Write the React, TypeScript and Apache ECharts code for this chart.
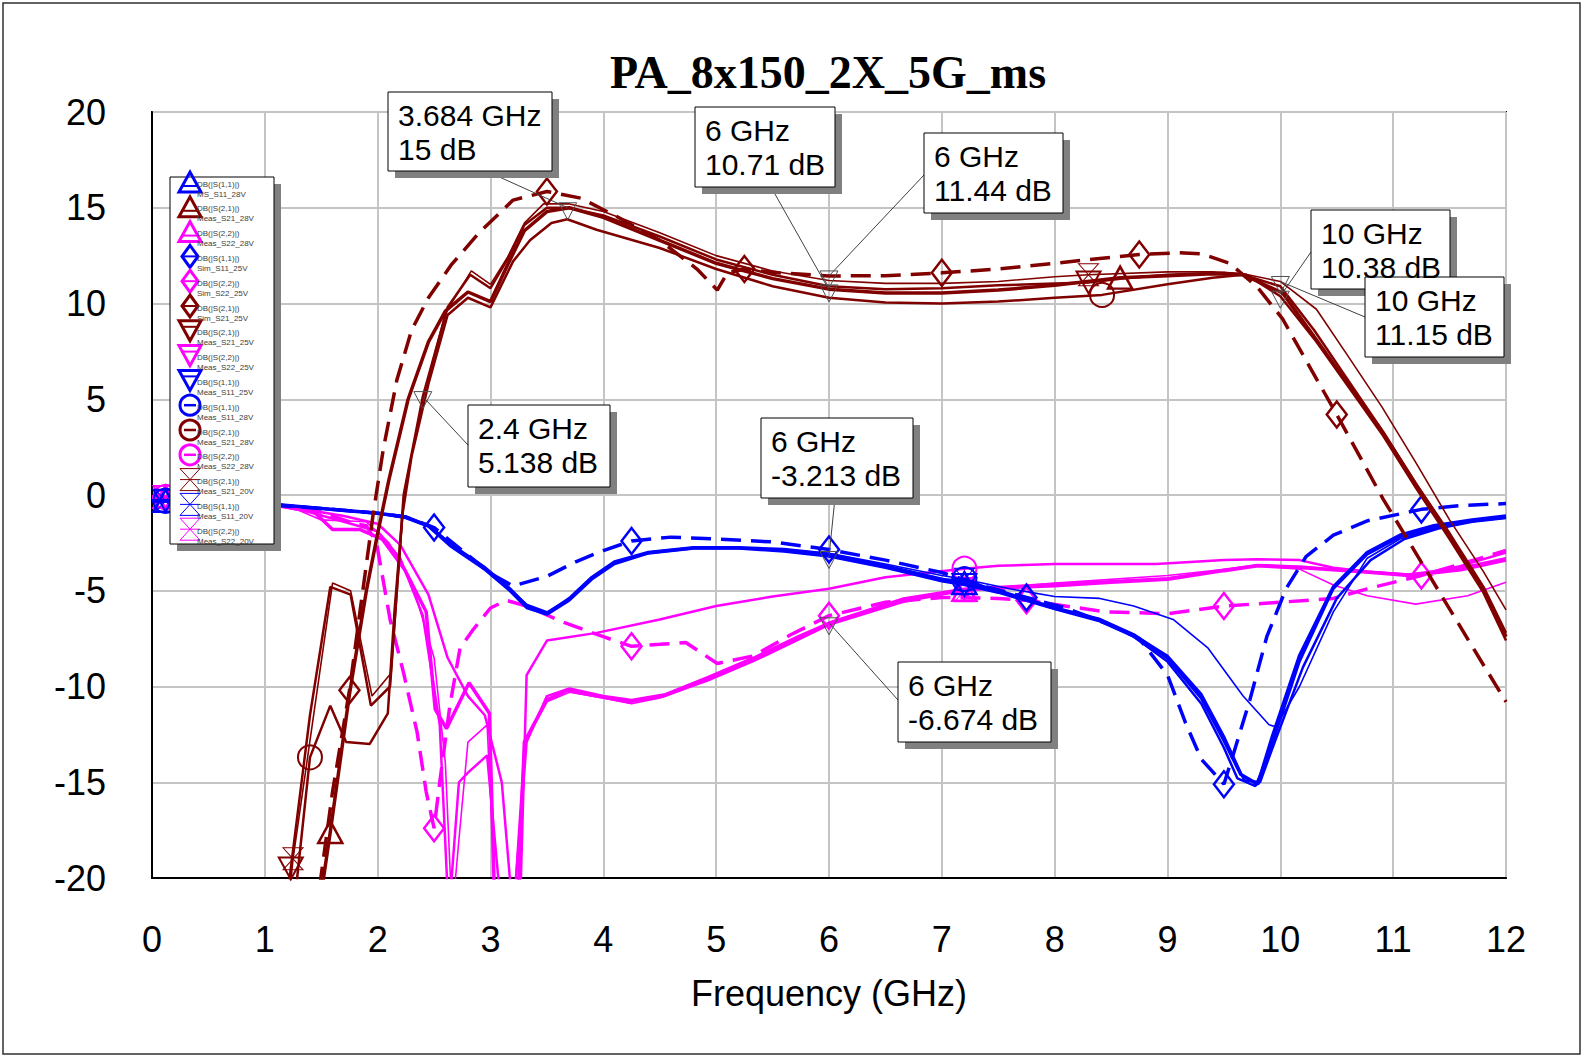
import React, { useEffect, useRef } from "react";
import * as echarts from "echarts";

type Pt = [number, number];

const BLUE = "#0000FF";
const DRED = "#800000";
const MAG = "#FF00FF";

const TITLE = "PA_8x150_2X_5G_ms";
const X_NAME = "Frequency (GHz)";
const X_MIN = 0, X_MAX = 12, X_STEP = 1;
const Y_MIN = -20, Y_MAX = 20, Y_STEP = 5;

// ---------- S11 ----------
const s11Ms28: Pt[] = [[0,-0.3],[0.12,-0.3],[0.5,-0.35],[1.0,-0.45],[1.5,-0.7],[2.0,-0.95],[2.25,-1.15],[2.45,-1.6],[2.65,-2.6],[2.95,-3.8],[3.17,-4.9],[3.32,-5.8],[3.5,-6.2],[3.7,-5.4],[3.9,-4.3],[4.1,-3.5],[4.4,-3.0],[4.8,-2.75],[5.2,-2.75],[5.6,-2.85],[6.0,-3.1],[6.5,-3.7],[7.0,-4.4],[7.2,-4.6],[7.5,-5.0],[8.0,-5.9],[8.4,-6.5],[8.7,-7.3],[9.0,-8.5],[9.3,-10.6],[9.5,-12.8],[9.65,-14.6],[9.8,-15.1],[9.93,-12.6],[10.17,-8.4],[10.47,-4.8],[10.77,-3.0],[11.06,-2.1],[11.36,-1.6],[11.7,-1.3],[12,-1.1]];
const s11Meas25: Pt[] = [[0,-0.3],[0.12,-0.3],[0.5,-0.35],[1.0,-0.45],[1.5,-0.7],[2.0,-0.95],[2.25,-1.2],[2.45,-1.65],[2.65,-2.7],[2.95,-3.9],[3.17,-5.0],[3.32,-5.9],[3.5,-6.25],[3.7,-5.5],[3.9,-4.4],[4.1,-3.6],[4.4,-3.05],[4.8,-2.8],[5.2,-2.8],[5.6,-2.95],[6.0,-3.213],[6.5,-3.8],[7.0,-4.5],[7.2,-4.7],[7.5,-5.1],[8.0,-5.95],[8.4,-6.6],[8.7,-7.4],[9.0,-8.7],[9.3,-10.9],[9.5,-13.2],[9.62,-14.8],[9.78,-15.2],[9.9,-13.5],[10.17,-8.7],[10.47,-4.9],[10.77,-3.1],[11.06,-2.2],[11.36,-1.7],[11.7,-1.35],[12,-1.15]];
const s11Meas28c: Pt[] = [[0,-0.3],[0.12,-0.3],[0.5,-0.35],[1.0,-0.45],[1.5,-0.7],[2.0,-0.95],[2.25,-1.15],[2.45,-1.6],[2.65,-2.6],[2.95,-3.85],[3.17,-4.95],[3.32,-5.85],[3.5,-6.2],[3.7,-5.45],[3.9,-4.35],[4.1,-3.55],[4.4,-3.0],[4.8,-2.75],[5.2,-2.75],[5.6,-2.9],[6.0,-3.15],[6.5,-3.75],[7.0,-4.45],[7.2,-4.4],[7.5,-5.05],[8.0,-5.9],[8.4,-6.5],[8.7,-7.3],[9.0,-8.4],[9.3,-10.4],[9.5,-12.6],[9.68,-14.9],[9.82,-15.0],[9.95,-12.9],[10.2,-9.0],[10.5,-5.4],[10.8,-3.4],[11.1,-2.3],[11.4,-1.75],[11.7,-1.4],[12,-1.2]];
const s11Meas20: Pt[] = [[0,-0.3],[0.12,-0.3],[0.5,-0.35],[1.0,-0.45],[1.5,-0.7],[2.0,-0.95],[2.25,-1.1],[2.45,-1.6],[2.65,-2.6],[2.95,-3.8],[3.17,-4.9],[3.32,-5.7],[3.5,-6.1],[3.7,-5.4],[3.9,-4.3],[4.1,-3.5],[4.4,-3.0],[4.8,-2.75],[5.2,-2.75],[5.6,-2.85],[6.0,-3.05],[6.5,-3.6],[7.0,-4.2],[7.2,-4.4],[7.6,-4.9],[8.0,-5.3],[8.4,-5.4],[8.7,-5.8],[9.05,-6.5],[9.36,-8.0],[9.67,-10.5],[9.9,-12.0],[9.96,-12.1],[10.17,-10.0],[10.47,-6.1],[10.77,-3.3],[11.06,-2.3],[11.36,-1.75],[11.7,-1.4],[12,-1.2]];
const s11Sim25: Pt[] = [[0,-0.3],[0.75,-0.4],[1.5,-0.7],[2.0,-0.95],[2.25,-1.15],[2.5,-1.7],[2.75,-2.9],[3.0,-4.1],[3.2,-4.75],[3.5,-4.25],[3.75,-3.5],[4.0,-2.9],[4.25,-2.4],[4.6,-2.2],[5.0,-2.3],[5.5,-2.45],[6.0,-2.85],[6.5,-3.4],[7.0,-4.05],[7.4,-4.8],[7.75,-5.35],[8.1,-5.9],[8.5,-6.8],[8.75,-7.5],[9.0,-9.4],[9.16,-11.9],[9.3,-13.8],[9.5,-15.1],[9.58,-13.6],[9.73,-10.7],[9.88,-7.4],[10.05,-4.9],[10.23,-3.2],[10.47,-2.1],[10.77,-1.35],[11.25,-0.75],[11.6,-0.55],[12,-0.45]];

// ---------- S21 ----------
const s21Sim25: Pt[] = [[1.45,-22],[1.6,-15.5],[1.75,-10.2],[1.85,-5.8],[1.96,-1.0],[2.05,2.4],[2.17,6.0],[2.3,8.6],[2.45,10.3],[2.65,12.0],[2.9,13.7],[3.2,15.4],[3.5,15.85],[3.8,15.5],[4.1,14.6],[4.5,13.3],[4.83,11.8],[5.01,10.7],[5.1,11.6],[5.25,11.8],[5.55,11.6],[6.0,11.44],[6.5,11.45],[7.0,11.6],[7.5,11.8],[8.0,12.1],[8.4,12.35],[8.75,12.56],[9.1,12.65],[9.3,12.6],[9.55,12.1],[9.79,10.9],[10.02,9.2],[10.25,6.8],[10.5,4.2],[10.91,-0.2],[11.3,-4.0],[11.71,-8.0],[12,-10.8]];
const s21Meas28: Pt[] = [[1.47,-22],[1.58,-17.6],[1.75,-10.4],[1.9,-5.0],[2.0,-2.0],[2.1,0.8],[2.27,5.0],[2.45,8.0],[2.6,9.6],[2.8,10.6],[3.0,10.1],[3.15,12.0],[3.3,13.8],[3.5,14.8],[3.7,15.0],[4.0,14.5],[4.5,13.3],[5.0,12.1],[5.5,11.3],[6.0,10.75],[6.5,10.55],[7.0,10.55],[7.5,10.7],[8.0,10.95],[8.58,11.35],[9.0,11.45],[9.4,11.55],[9.67,11.5],[10.02,10.55],[10.32,8.1],[10.61,5.7],[10.91,3.25],[11.21,0.47],[11.5,-2.1],[11.8,-4.9],[12,-7.4]];
const s21Meas25: Pt[] = [[1.18,-22],[1.23,-19.5],[1.4,-11.5],[1.58,-4.8],[1.76,-5.2],[1.94,-11.0],[2.11,-10.0],[2.17,-5.0],[2.23,0.0],[2.4,5.138],[2.62,9.8],[2.82,11.5],[3.0,10.8],[3.15,12.3],[3.3,14.1],[3.5,15.0],[3.684,15.0],[4.0,14.6],[4.5,13.5],[5.0,12.3],[5.5,11.5],[6.0,10.9],[6.5,10.75],[7.0,10.8],[7.5,10.95],[8.0,11.05],[8.3,11.1],[8.6,11.3],[9.0,11.5],[9.5,11.6],[9.7,11.5],[10.0,10.38],[10.32,8.0],[10.61,5.6],[10.91,3.1],[11.21,0.3],[11.5,-2.3],[11.8,-5.1],[12,-7.6]];
const s21Meas28c: Pt[] = [[1.25,-22],[1.4,-13.7],[1.58,-11.0],[1.72,-12.9],[1.93,-13.0],[2.09,-11.4],[2.15,-6.0],[2.22,-1.0],[2.3,2.0],[2.45,5.8],[2.62,9.4],[2.8,10.3],[3.0,9.8],[3.2,12.2],[3.35,13.3],[3.54,14.2],[3.68,14.4],[3.94,13.85],[4.5,12.9],[5.0,11.8],[5.5,10.9],[6.0,10.3],[6.5,10.05],[7.0,10.0],[7.5,10.1],[8.0,10.3],[8.42,10.45],[9.0,11.0],[9.4,11.35],[9.67,11.5],[10.0,10.9],[10.3,8.6],[10.6,6.0],[10.9,3.4],[11.2,0.6],[11.5,-2.0],[11.8,-4.8],[12,-7.2]];
const s21Meas20: Pt[] = [[1.2,-22],[1.25,-19.0],[1.6,-4.6],[1.76,-5.0],[1.95,-10.5],[2.12,-9.3],[2.18,-4.5],[2.24,0.3],[2.4,5.0],[2.6,9.5],[2.83,11.7],[3.0,11.0],[3.15,12.4],[3.3,14.2],[3.47,15.2],[3.7,15.2],[4.0,14.8],[4.5,13.7],[5.0,12.5],[5.5,11.7],[6.0,11.2],[6.5,11.05],[7.0,11.05],[7.5,11.15],[8.0,11.4],[8.3,11.5],[9.0,11.65],[9.4,11.65],[9.67,11.55],[10.0,11.15],[10.32,9.7],[10.6,7.25],[10.9,4.6],[11.2,1.7],[11.5,-1.3],[11.8,-4.0],[12,-6.0]];

// ---------- S22 ----------
const s22Sim25: Pt[] = [[0,-0.2],[0.75,-0.35],[1.2,-0.6],[1.5,-0.9],[1.8,-1.5],[1.9,-1.6],[1.99,-2.5],[2.05,-4.5],[2.11,-6.5],[2.23,-9.3],[2.35,-12.4],[2.43,-15.5],[2.5,-17.4],[2.55,-15.0],[2.64,-11.0],[2.73,-8.0],[2.85,-7.0],[3.0,-5.9],[3.14,-5.5],[3.32,-5.8],[3.65,-6.65],[4.0,-7.4],[4.25,-7.9],[4.5,-7.8],[4.73,-7.7],[5.01,-8.8],[5.33,-8.4],[5.66,-7.3],[6.0,-6.3],[6.5,-5.6],[7.0,-5.35],[7.5,-5.4],[7.75,-5.5],[8.45,-6.1],[9.0,-6.2],[9.5,-5.8],[10.0,-5.6],[10.47,-5.4],[10.77,-4.9],[11.25,-4.2],[11.6,-3.6],[12,-2.9]];
const s22Meas28: Pt[] = [[0,-0.1],[0.12,-0.1],[0.5,-0.2],[1.0,-0.4],[1.3,-0.7],[1.44,-0.9],[1.6,-1.8],[1.84,-1.8],[2.04,-2.3],[2.24,-3.9],[2.43,-6.1],[2.51,-11.2],[2.61,-12.2],[2.81,-9.8],[2.99,-11.4],[3.04,-22],[3.24,-22],[3.3,-12.9],[3.5,-10.7],[3.68,-10.2],[3.94,-10.5],[4.22,-10.8],[4.53,-10.5],[4.93,-9.6],[5.33,-8.6],[5.72,-7.5],[6.0,-6.7],[6.66,-5.5],[7.2,-4.95],[7.5,-4.85],[8.0,-4.74],[8.5,-4.55],[9.0,-4.4],[9.5,-3.95],[9.8,-3.7],[10.2,-3.8],[10.7,-4.0],[11.14,-4.2],[11.6,-3.9],[12,-3.4]];
const s22Meas25: Pt[] = [[0,-0.1],[0.12,-0.1],[0.5,-0.2],[1.0,-0.4],[1.4,-0.9],[1.7,-1.4],[2.0,-1.9],[2.2,-3.3],[2.4,-6.3],[2.55,-12.0],[2.63,-22],[2.72,-15.0],[2.8,-14.5],[2.97,-13.6],[3.1,-22],[3.2,-22],[3.32,-12.9],[3.5,-10.5],[3.7,-10.1],[4.0,-10.5],[4.25,-10.7],[4.55,-10.4],[4.93,-9.5],[5.33,-8.5],[5.72,-7.4],[6.0,-6.674],[6.66,-5.4],[7.2,-4.9],[7.5,-4.8],[8.0,-4.65],[8.5,-4.5],[9.0,-4.35],[9.5,-3.9],[9.8,-3.65],[10.2,-3.75],[10.7,-4.0],[11.14,-4.15],[11.6,-3.8],[12,-3.3]];
const s22Meas28c: Pt[] = [[0,-0.1],[0.12,-0.1],[0.5,-0.2],[1.0,-0.4],[1.4,-0.8],[1.7,-1.1],[2.0,-1.5],[2.2,-2.6],[2.45,-5.2],[2.62,-8.5],[2.8,-10.5],[2.95,-11.5],[3.1,-15.0],[3.2,-22],[3.26,-22],[3.32,-9.4],[3.5,-7.6],[3.94,-7.2],[4.5,-6.5],[5.0,-5.8],[5.5,-5.3],[6.0,-4.9],[6.5,-4.3],[7.2,-3.85],[7.5,-3.7],[8.0,-3.6],[8.9,-3.6],[9.5,-3.4],[9.8,-3.35],[10.17,-3.4],[10.47,-3.8],[10.77,-4.0],[11.24,-4.2],[11.6,-3.7],[12,-3.0]];
const s22Meas20: Pt[] = [[0,-0.1],[0.12,-0.1],[0.5,-0.2],[1.0,-0.5],[1.3,-0.8],[1.5,-1.3],[1.9,-1.4],[2.1,-2.5],[2.3,-4.5],[2.5,-8.5],[2.6,-14.0],[2.66,-22],[2.72,-18.0],[2.8,-12.9],[2.97,-12.0],[3.05,-22],[3.2,-22],[3.3,-13.0],[3.5,-10.8],[3.7,-10.3],[4.0,-10.6],[4.25,-10.9],[4.5,-10.6],[4.93,-9.7],[5.33,-8.7],[5.72,-7.6],[6.0,-6.8],[6.66,-5.6],[7.2,-5.0],[8.0,-4.6],[9.0,-4.2],[9.8,-3.7],[10.17,-3.87],[10.47,-4.7],[10.77,-5.26],[11.2,-5.7],[11.66,-5.26],[12,-4.56]];

// ---------- markers (annotations) ----------
const annFreq = [3.684, 6, 6, 10, 10, 2.4, 6, 6];
const annDb = [15, 10.71, 11.44, 10.38, 11.15, 5.138, -3.213, -6.674];
const annLine1 = ["3.684 GHz", "6 GHz", "6 GHz", "10 GHz", "10 GHz", "2.4 GHz", "6 GHz", "6 GHz"];
const annLine2 = ["15 dB", "10.71 dB", "11.44 dB", "10.38 dB", "11.15 dB", "5.138 dB", "-3.213 dB", "-6.674 dB"];
// box layout (pixels): x, y, w, h, leader start x, y
const annBox = [
  [388, 92, 164, 79, 486, 171],
  [695, 107, 140, 80, 771, 187],
  [924, 133, 139, 80, 924, 175],
  [1311, 210, 139, 79, 1311, 252],
  [1365, 277, 139, 80, 1365, 317],
  [468, 405, 142, 82, 468, 445],
  [761, 418, 152, 80, 835, 498],
  [898, 662, 153, 80, 898, 700],
];

type MarkerKind = "triUp" | "triDown" | "diamond" | "circle" | "hourglass";

interface Def {
  expr: string;
  name: string;
  color: string;
  data: Pt[];
  width: number;
  dash?: boolean;
  marker: MarkerKind;
  markAt: number[];
  mw: number;
}

const SIM_MARKS_A = [0.75, 2.5, 4.25, 6, 7.75, 9.5, 11.25];
const SIM_MARKS_B = [1.75, 3.5, 5.25, 7, 8.75, 10.5];
const MEAS_MARKS = [0.12, 7.2];

const DEFS: Def[] = [
  { expr: "DB(|S(1,1)|)", name: "MS_S11_28V", color: BLUE, data: s11Ms28, width: 3.5, marker: "triUp", markAt: MEAS_MARKS, mw: 2.5 },
  { expr: "DB(|S(2,1)|)", name: "Meas_S21_28V", color: DRED, data: s21Meas28, width: 3.5, marker: "triUp", markAt: [1.58, 8.58], mw: 2.5 },
  { expr: "DB(|S(2,2)|)", name: "Meas_S22_28V", color: MAG, data: s22Meas28, width: 3.5, marker: "triUp", markAt: MEAS_MARKS, mw: 2.5 },
  { expr: "DB(|S(1,1)|)", name: "Sim_S11_25V", color: BLUE, data: s11Sim25, width: 3.5, dash: true, marker: "diamond", markAt: SIM_MARKS_A, mw: 2.5 },
  { expr: "DB(|S(2,2)|)", name: "Sim_S22_25V", color: MAG, data: s22Sim25, width: 3.5, dash: true, marker: "diamond", markAt: SIM_MARKS_A, mw: 2.5 },
  { expr: "DB(|S(2,1)|)", name: "Sim_S21_25V", color: DRED, data: s21Sim25, width: 3.5, dash: true, marker: "diamond", markAt: SIM_MARKS_B, mw: 2.5 },
  { expr: "DB(|S(2,1)|)", name: "Meas_S21_25V", color: DRED, data: s21Meas25, width: 2.5, marker: "triDown", markAt: [1.23, 8.3], mw: 2 },
  { expr: "DB(|S(2,2)|)", name: "Meas_S22_25V", color: MAG, data: s22Meas25, width: 2.5, marker: "triDown", markAt: MEAS_MARKS, mw: 2 },
  { expr: "DB(|S(1,1)|)", name: "Meas_S11_25V", color: BLUE, data: s11Meas25, width: 2.5, marker: "triDown", markAt: MEAS_MARKS, mw: 2 },
  { expr: "DB(|S(1,1)|)", name: "Meas_S11_28V", color: BLUE, data: s11Meas28c, width: 2.5, marker: "circle", markAt: MEAS_MARKS, mw: 2 },
  { expr: "DB(|S(2,1)|)", name: "Meas_S21_28V", color: DRED, data: s21Meas28c, width: 2.5, marker: "circle", markAt: [1.4, 8.42], mw: 2 },
  { expr: "DB(|S(2,2)|)", name: "Meas_S22_28V", color: MAG, data: s22Meas28c, width: 2.5, marker: "circle", markAt: MEAS_MARKS, mw: 2 },
  { expr: "DB(|S(2,1)|)", name: "Meas_S21_20V", color: DRED, data: s21Meas20, width: 1.6, marker: "hourglass", markAt: [1.25, 8.3], mw: 1 },
  { expr: "DB(|S(1,1)|)", name: "Meas_S11_20V", color: BLUE, data: s11Meas20, width: 1.6, marker: "hourglass", markAt: MEAS_MARKS, mw: 1 },
  { expr: "DB(|S(2,2)|)", name: "Meas_S22_20V", color: MAG, data: s22Meas20, width: 1.6, marker: "hourglass", markAt: MEAS_MARKS, mw: 1 },
];

const SYM: Record<MarkerKind, { symbol: string; size: number[]; rotate: number }> = {
  triUp: { symbol: "triangle", size: [24, 22], rotate: 0 },
  triDown: { symbol: "triangle", size: [24, 22], rotate: 180 },
  diamond: { symbol: "diamond", size: [20, 26], rotate: 0 },
  circle: { symbol: "circle", size: [24, 24], rotate: 0 },
  hourglass: { symbol: "path://M0,0L20,0L0,22L20,22Z", size: [20, 22], rotate: 0 },
};

const FONT = "Liberation Sans, Arial, sans-serif";

function zFor(c: string) {
  return c === MAG ? 2 : c === BLUE ? 3 : 4;
}

function buildOption(): any {
  return {
    animation: false,
    backgroundColor: "#ffffff",
    textStyle: { fontFamily: FONT },
    title: {
      text: TITLE,
      left: 823,
      top: 44,
      textAlign: "center",
      textStyle: { fontFamily: "Liberation Serif, Times New Roman, serif", fontWeight: "bold", fontSize: 46, color: "#000" },
    },
    grid: { left: 152, top: 112, right: 79, bottom: 179, show: true, borderColor: "#000", borderWidth: 2, backgroundColor: "#fff" },
    xAxis: {
      type: "value",
      min: X_MIN,
      max: X_MAX,
      interval: X_STEP,
      name: X_NAME,
      nameLocation: "middle",
      nameGap: 97,
      nameTextStyle: { fontSize: 36, fontFamily: FONT, color: "#000" },
      axisLine: { show: true, onZero: false, lineStyle: { color: "#000", width: 2 } },
      axisTick: { show: false },
      axisLabel: { fontSize: 36, fontFamily: FONT, color: "#000", margin: 43 },
      splitLine: { show: true, lineStyle: { color: "#C4C4C4", width: 2 } },
    },
    yAxis: {
      type: "value",
      min: Y_MIN,
      max: Y_MAX,
      interval: Y_STEP,
      axisLine: { show: true, onZero: false, lineStyle: { color: "#000", width: 2 } },
      axisTick: { show: false },
      axisLabel: { fontSize: 36, fontFamily: FONT, color: "#000", margin: 46, padding: [12, 0, 0, 0] },
      splitLine: { show: true, lineStyle: { color: "#C4C4C4", width: 2 } },
    },
    series: DEFS.map((d, i) => {
      const s = SYM[d.marker];
      return {
        type: "line",
        id: "s" + i,
        name: d.name,
        z: zFor(d.color),
        silent: true,
        clip: true,
        symbol: "none",
        showSymbol: true,
        color: d.color,
        emphasis: { disabled: true },
        lineStyle: { color: d.color, width: d.width, type: d.dash ? [20, 10] : "solid" },
        itemStyle: { color: "rgba(0,0,0,0)", borderColor: d.color, borderWidth: d.mw },
        data: d.data.map(([x, y]) =>
          d.markAt.includes(x)
            ? { value: [x, y], symbol: s.symbol, symbolSize: s.size, symbolRotate: s.rotate }
            : { value: [x, y], symbol: "none" }
        ),
      };
    }),
  };
}

function legendIcon(kind: MarkerKind, color: string, cx: number, cy: number, lw: number): any[] {
  const st = { fill: "none", stroke: color, lineWidth: lw };
  const out: any[] = [];
  if (kind === "triUp") {
    out.push({ type: "polygon", shape: { points: [[cx - 11, cy + 10], [cx + 11, cy + 10], [cx, cy - 10]] }, style: st });
    out.push({ type: "line", shape: { x1: cx - 9, y1: cy + 4, x2: cx + 9, y2: cy + 4 }, style: { stroke: color, lineWidth: 2 } });
  } else if (kind === "triDown") {
    out.push({ type: "polygon", shape: { points: [[cx - 11, cy - 10], [cx + 11, cy - 10], [cx, cy + 10]] }, style: st });
    out.push({ type: "line", shape: { x1: cx - 9, y1: cy - 4, x2: cx + 9, y2: cy - 4 }, style: { stroke: color, lineWidth: 2 } });
  } else if (kind === "diamond") {
    out.push({ type: "polygon", shape: { points: [[cx, cy - 11], [cx + 8, cy], [cx, cy + 11], [cx - 8, cy]] }, style: st });
    out.push({ type: "line", shape: { x1: cx - 6, y1: cy, x2: cx + 6, y2: cy }, style: { stroke: color, lineWidth: 2 } });
  } else if (kind === "circle") {
    out.push({ type: "circle", shape: { cx, cy, r: 10 }, style: st });
    out.push({ type: "line", shape: { x1: cx - 6, y1: cy, x2: cx + 6, y2: cy }, style: { stroke: color, lineWidth: 2.5 } });
  } else {
    out.push({ type: "polygon", shape: { points: [[cx - 10, cy - 11], [cx + 10, cy - 11], [cx - 10, cy + 11], [cx + 10, cy + 11]] }, style: { fill: "none", stroke: color, lineWidth: 1 } });
    out.push({ type: "line", shape: { x1: cx - 10, y1: cy, x2: cx + 10, y2: cy }, style: { stroke: color, lineWidth: 1 } });
  }
  return out;
}

function buildGraphics(toPx: (f: number, d: number) => number[]): any[] {
  const els: any[] = [];
  // outer frame
  els.push({ type: "rect", shape: { x: 3, y: 3, width: 1577, height: 1051 }, style: { fill: "none", stroke: "#303030", lineWidth: 1.5 }, z: 100 });

  // annotations
  annFreq.forEach((f, i) => {
    const [bx, by, bw, bh, lx, ly] = annBox[i];
    const p = toPx(f, annDb[i]);
    els.push({ type: "line", shape: { x1: lx, y1: ly, x2: p[0], y2: p[1] }, style: { stroke: "#404040", lineWidth: 1 }, z: 100 });
    els.push({ type: "polygon", shape: { points: [[p[0] - 9, p[1] - 5], [p[0] + 9, p[1] - 5], [p[0], p[1] + 12]] }, style: { fill: "none", stroke: "#505050", lineWidth: 1 }, z: 100 });
    els.push({ type: "rect", shape: { x: bx + 7, y: by + 7, width: bw, height: bh }, style: { fill: "#808080" }, z: 101 });
    els.push({ type: "rect", shape: { x: bx, y: by, width: bw, height: bh }, style: { fill: "#ffffff", stroke: "#000", lineWidth: 1 }, z: 102 });
    els.push({ type: "text", x: bx + 10, y: by + 23, style: { text: annLine1[i], fontSize: 30, fontFamily: FONT, fill: "#000", align: "left", verticalAlign: "middle" }, z: 103 });
    els.push({ type: "text", x: bx + 10, y: by + 57, style: { text: annLine2[i], fontSize: 30, fontFamily: FONT, fill: "#000", align: "left", verticalAlign: "middle" }, z: 103 });
  });

  // legend
  els.push({ type: "rect", shape: { x: 177, y: 184, width: 104, height: 367 }, style: { fill: "#808080" }, z: 110 });
  els.push({ type: "rect", shape: { x: 170, y: 177, width: 104, height: 367 }, style: { fill: "#ffffff", stroke: "#000", lineWidth: 1 }, z: 111 });
  DEFS.forEach((d, i) => {
    const cy = 182 + i * 24.8;
    legendIcon(d.marker, d.color, 190, cy, d.mw === 1 ? 1 : 3).forEach((e) => els.push({ ...e, z: 112 }));
    els.push({ type: "text", x: 197, y: cy + 2, style: { text: d.expr, fontSize: 8, fontFamily: FONT, fill: "#404040", align: "left", verticalAlign: "middle" }, z: 113 });
    els.push({ type: "text", x: 197, y: cy + 12, style: { text: d.name, fontSize: 8, fontFamily: FONT, fill: "#404040", align: "left", verticalAlign: "middle" }, z: 113 });
  });
  return els;
}

export default function App() {
  const ref = useRef<HTMLDivElement>(null);
  useEffect(() => {
    if (!ref.current) return;
    const chart = echarts.init(ref.current, undefined, { renderer: "svg" });
    chart.setOption(buildOption());
    const toPx = (f: number, d: number) => chart.convertToPixel({ gridIndex: 0 } as any, [f, d]) as unknown as number[];
    chart.setOption({ graphic: { elements: buildGraphics(toPx) } });
    return () => chart.dispose();
  }, []);
  return (
    <div
      ref={ref}
      style={{ position: "fixed", left: 0, top: 0, width: 1585, height: 1057, background: "#fff" }}
    />
  );
}
